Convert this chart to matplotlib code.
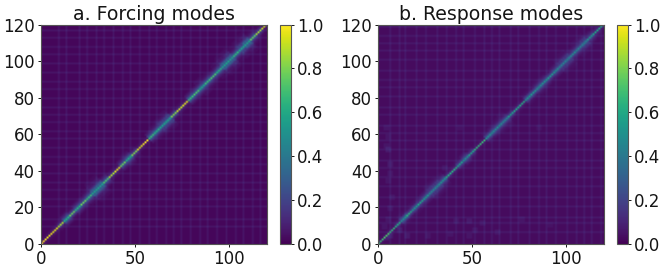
import numpy as np
import matplotlib
matplotlib.use("Agg")
import matplotlib.pyplot as plt

n_modes = 120
titles = ["a. Forcing modes", "b. Response modes"]
x_ticks = [0, 50, 100]
y_ticks = [0, 20, 40, 60, 80, 100, 120]
cbar_ticks = [0.0, 0.2, 0.4, 0.6, 0.8, 1.0]

# Values read along the diagonal, one per 3 modes
diag_a = [1.0, .98, .95, .88, .62, .78, .64, .78, .68, .56, .56, .72, .88, .96, .78, .60,
          .82, .96, 1.0, .68, .62, .56, .56, .82, .92, .96, .68, .72, .58, .68, .72, .62,
          .56, .56, .66, .56, .56, .76, .86, .92]
diag_b = [.68, .68, .66, .62, .46, .60, .50, .58, .52, .44, .44, .50, .62, .64, .56, .46,
          .58, .66, .68, .50, .46, .46, .44, .56, .60, .62, .50, .52, .46, .50, .54, .48,
          .42, .42, .48, .42, .42, .52, .58, .60]
# Strength next to the diagonal and half-width of the halo (modes)
band_a = [.10, .10, .14, .22, .46, .32, .42, .34, .42, .44, .44, .36, .18, .14, .34, .46,
          .24, .12, .10, .42, .44, .42, .44, .26, .16, .12, .42, .40, .44, .40, .36, .42,
          .44, .44, .42, .44, .44, .32, .20, .14]
wide_a = [1.2, 1.2, 1.2, 1.4, 1.8, 1.6, 1.8, 1.8, 2, 2.8, 2.8, 1.8, 1.4, 1.4, 1.8, 2,
          1.6, 1.2, 1.2, 1.8, 2, 2.4, 2.6, 1.6, 1.4, 1.4, 1.8, 1.8, 2.2, 2, 1.8, 2.2,
          2.8, 3, 2.2, 2.6, 2.8, 2, 1.6, 1.2]
band_b = [.06, .06, .10, .16, .34, .24, .30, .26, .32, .34, .34, .34, .18, .14, .26, .34,
          .20, .10, .10, .32, .34, .32, .34, .20, .14, .10, .32, .30, .34, .32, .28, .32,
          .34, .34, .30, .32, .34, .24, .16, .10]
wide_b = [1.2, 1.2, 1.2, 1.4, 1.6, 1.6, 1.6, 1.8, 1.8, 2.4, 2.4, 2, 1.4, 1.4, 1.6, 1.8,
          1.6, 1.2, 1.2, 1.6, 1.8, 2, 2.2, 1.6, 1.4, 1.4, 1.6, 1.6, 2, 1.8, 1.6, 1.8,
          2.4, 2.6, 1.8, 2.2, 2.4, 1.8, 1.6, 1.2]
falloff = [1.0, .62, .34, .18, .10, .05, .025, 0.0]

# Faint grid lines in the background
stripes_a = [9, 13, 20, 24, 29, 33, 38, 43, 47, 52, 57, 61, 66, 70, 74, 79, 84, 88, 93, 98, 103, 107, 112, 116]
stripes_b = [6, 11, 14, 20, 25, 31, 36, 41, 45, 51, 56, 60, 64, 70, 74, 80, 85, 89, 94, 100, 105, 109, 113, 118]
bg_a, stripe_a = 0.018, 0.035
bg_b, stripe_b = 0.028, 0.035

# Faint off-diagonal patches in panel b: mode x, mode y, value
patch_x = [3, 4, 5, 10, 14, 25, 37, 40, 47, 47, 50, 62, 84, 4, 6, 5, 4, 3, 4, 5, 34, 42, 3, 14, 2, 5, 54, 75, 90]
patch_y = [62, 50, 42, 6, 3, 3, 4, 11, 3, 11, 6, 5, 62, 33, 24, 18, 12, 52, 57, 37, 40, 62, 2, 14, 8, 3, 10, 12, 9]
patch_v = [.03, .04, .04, .04, .04, .03, .03, .03, .03, .04, .03, .03, .02, .03, .03, .03, .03, .03, .03, .03, .03, .02, .04, .04, .03, .04, .03, .03, .02]


def build(diag, band, wide, stripes, bg, stripe):
    m = np.full((n_modes, n_modes), bg)
    m[stripes, :] += stripe
    m[:, stripes] += stripe
    for i in range(n_modes):
        for j in range(n_modes):
            k = (i + j) // 6
            step = int(round(abs(i - j) * 2 / wide[k]))
            if i == j:
                m[i, j] = diag[k]
            elif step < len(falloff):
                m[i, j] += band[k] * falloff[step]
    return m


matrices = [build(diag_a, band_a, wide_a, stripes_a, bg_a, stripe_a),
            build(diag_b, band_b, wide_b, stripes_b, bg_b, stripe_b)]
for x, y, v in zip(patch_x, patch_y, patch_v):
    matrices[1][y:y + 3, x:x + 3] += v

W, H = 665, 271
fig = plt.figure(figsize=(W / 100, H / 100), dpi=100)
axes_px = [(41, 266.5), (378, 603.5)]
cbar_px = [(280, 291), (617, 628)]
top, bottom = 24.5, 244
ink = "#151515"

for m, title, (x0, x1), (c0, c1) in zip(matrices, titles, axes_px, cbar_px):
    ax = fig.add_axes([x0 / W, 1 - bottom / H, (x1 - x0) / W, (bottom - top) / H])
    im = ax.imshow(m, origin="lower", cmap="viridis", vmin=0, vmax=1,
                   extent=[0, n_modes, 0, n_modes], aspect="auto", interpolation="bilinear")
    ax.set_xticks(x_ticks)
    ax.set_yticks(y_ticks)
    ax.tick_params(labelsize=12, length=2.5, width=0.7, pad=2, colors=ink)
    ax.set_title(title, fontsize=13.6, pad=1, color=ink)
    for s in ax.spines.values():
        s.set_color("#555555")
        s.set_linewidth(0.8)
    cax = fig.add_axes([c0 / W, 1 - bottom / H, (c1 - c0) / W, (bottom - top) / H])
    cb = fig.colorbar(im, cax=cax, ticks=cbar_ticks)
    cb.ax.tick_params(labelsize=12, length=2.5, width=0.7, pad=2, colors=ink)
    cb.outline.set_edgecolor("#555555")
    cb.outline.set_linewidth(0.8)

fig.savefig("out.png", dpi=100)
